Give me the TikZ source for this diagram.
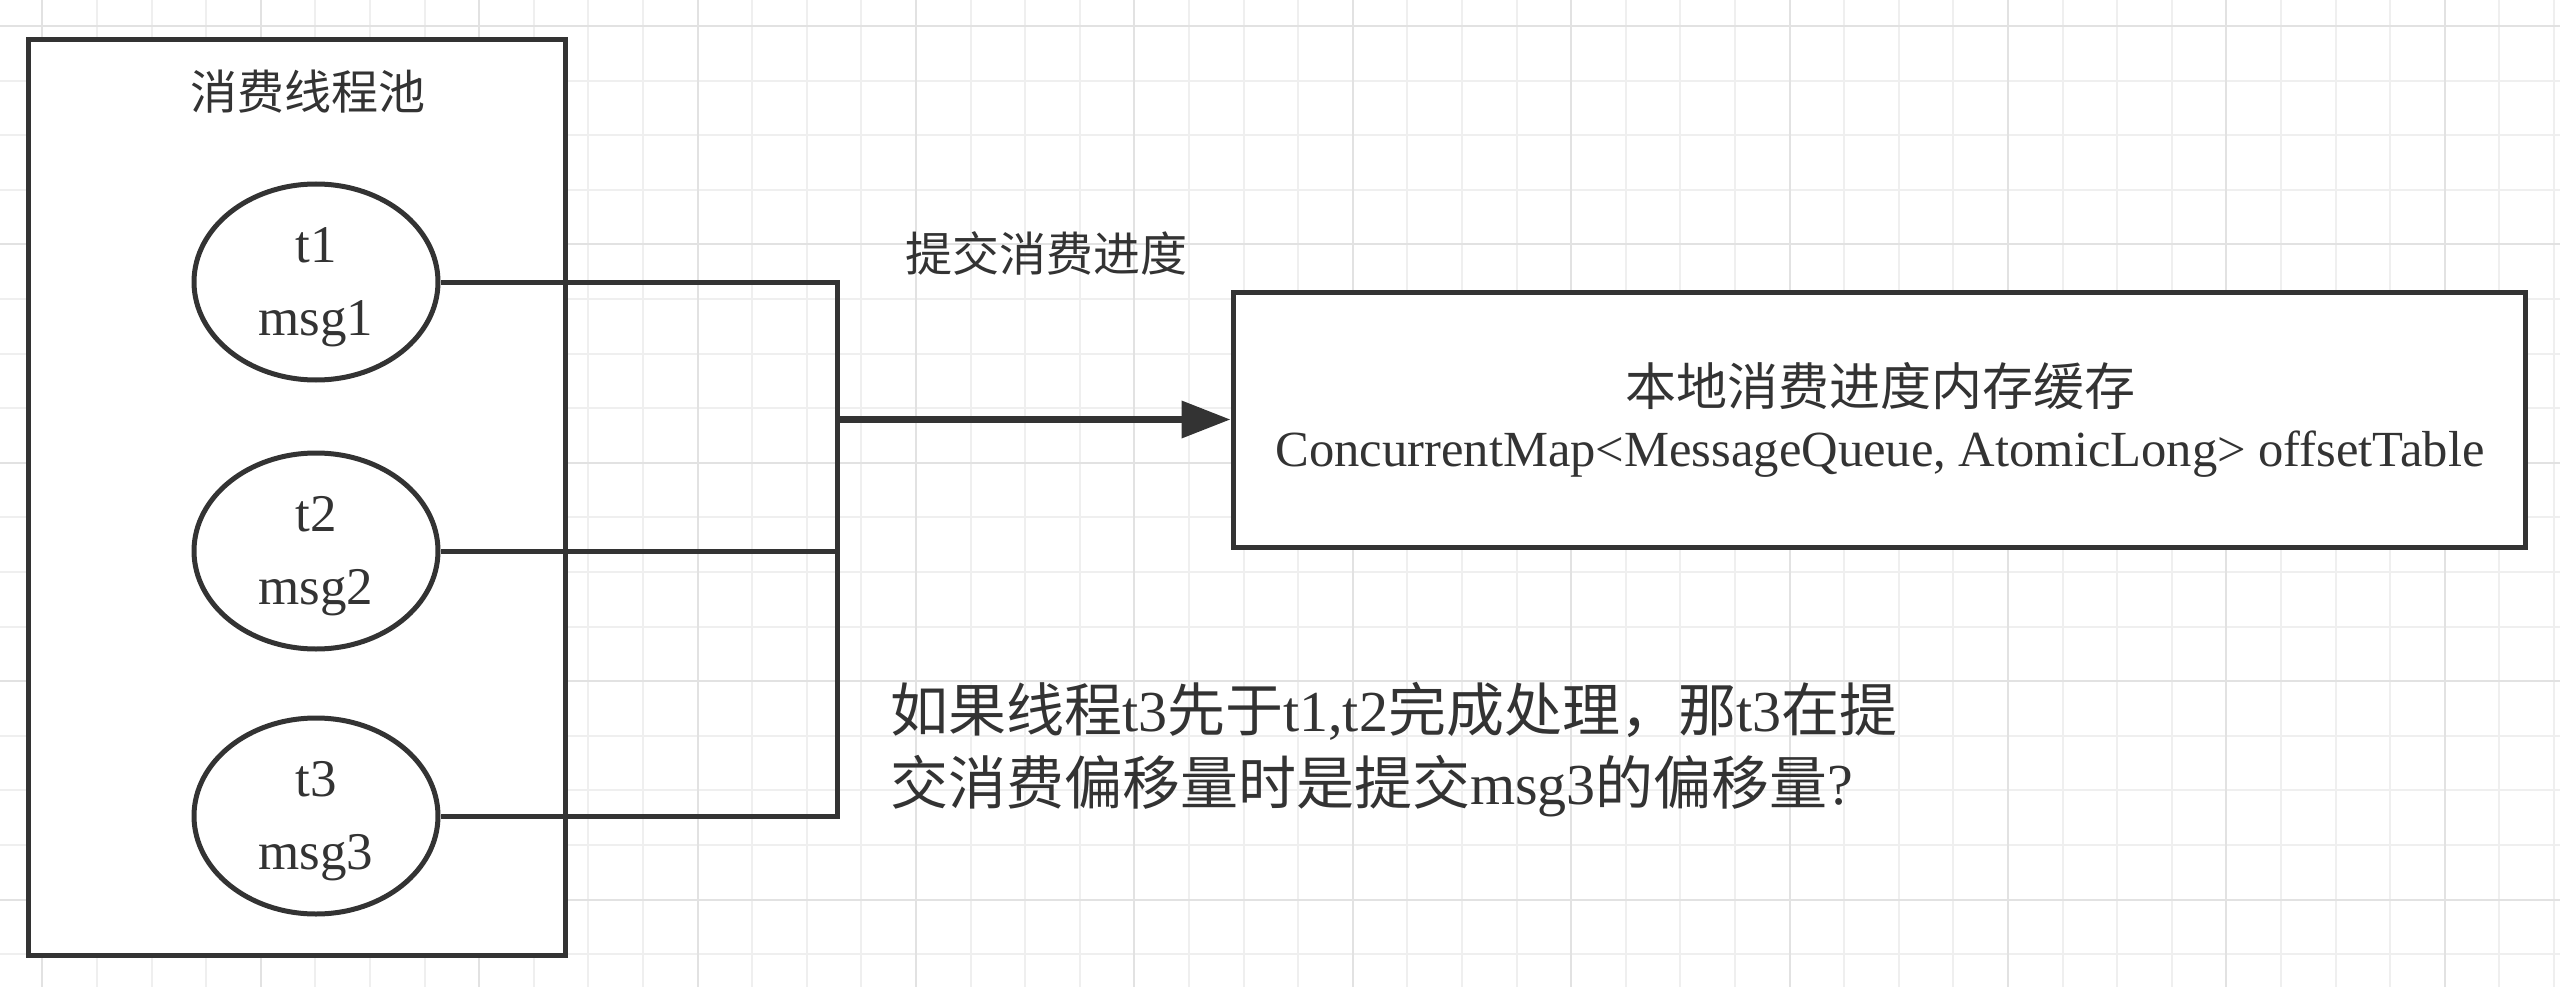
\documentclass[tikz,border=0pt]{standalone}
\usepackage{fontspec}
\setmainfont{Liberation Serif}
\newfontfamily\cjk{Noto Sans CJK SC}
\usetikzlibrary{shapes.geometric,arrows.meta}
\definecolor{ink}{HTML}{333333}
\definecolor{gridminor}{HTML}{EFEFEF}
\definecolor{gridmajor}{HTML}{E2E2E2}
\begin{document}
\begin{tikzpicture}[x=1pt,y=-1pt,
  stroke/.style={draw=ink, line width=5pt},
  box/.style={stroke, rectangle, fill=white, inner sep=0pt},
  thread/.style={stroke, ellipse, fill=white, minimum width=244pt, minimum height=196pt, inner sep=0pt},
  wire/.style={draw=ink, line width=5pt, line join=miter},
  pusharrow/.style={draw=ink, line width=7pt, -{Triangle[length=49pt,width=36pt]}},
  txt/.style={text=ink, inner sep=0pt},
  cjktitle/.style={txt, font=\cjk\fontsize{47}{56}\selectfont},
  latin/.style={txt, font=\fontsize{53}{60}\selectfont},
  gridline/.style={line width=2pt}
]
\useasboundingbox (0,0) rectangle (2560,987);
\fill[white] (0,0) rectangle (2560,987);
% grid
\foreach \i in {0,...,46} {
  \pgfmathsetmacro\xx{42.4+54.6*\i}
  \draw[gridminor, gridline] (\xx,0) -- (\xx,987);
}
\foreach \i in {0,...,17} {
  \pgfmathsetmacro\yy{26+54.6*\i}
  \draw[gridminor, gridline] (0,\yy) -- (2560,\yy);
}
\foreach \i in {0,4,...,44} {
  \pgfmathsetmacro\xx{42.4+54.6*\i}
  \draw[gridmajor, gridline] (\xx,0) -- (\xx,987);
}
\foreach \i in {0,4,...,16} {
  \pgfmathsetmacro\yy{26+54.6*\i}
  \draw[gridmajor, gridline] (0,\yy) -- (2560,\yy);
}

% thread pool
\node[box, minimum width=537pt, minimum height=915pt] (pool) at (296.5,497.5) {};
\node[cjktitle] (pooltitle) at (308,92) {消费线程池};

\node[thread] (e1) at (316,282) {};
\node[thread] (e2) at (316,551) {};
\node[thread] (e3) at (316,816) {};
\node[latin, anchor=base] (t1) at (316,262) {t1};
\node[latin, anchor=base] (m1) at (316,335) {msg1};
\node[latin, anchor=base] (t2) at (316,531) {t2};
\node[latin, anchor=base] (m2) at (316,604) {msg2};
\node[latin, anchor=base] (t3) at (316,796) {t3};
\node[latin, anchor=base] (m3) at (316,869) {msg3};

% local store
\node[box, minimum width=1292pt, minimum height=255pt] (store) at (1879,419.5) {};
\node[txt, font=\cjk\fontsize{51}{60}\selectfont] (storetitle) at (1880,386) {本地消费进度内存缓存};
\node[txt, anchor=base, font=\fontsize{50.6}{60}\selectfont] (storemap) at (1880,466) {ConcurrentMap<MessageQueue, AtomicLong> offsetTable};

% commit label
\node[cjktitle] (commit) at (1046,253) {提交消费进度};

% question
\node[txt, anchor=base west, font=\fontsize{58}{73}\selectfont] (q1) at (890,731)
  {{\cjk 如果线程}t3{\cjk 先于}t1,t2{\cjk 完成处理，那}t3{\cjk 在提}};
\node[txt, anchor=base west, font=\fontsize{58}{73}\selectfont] (q2) at (890,804)
  {{\cjk 交消费偏移量时是提交}msg3{\cjk 的偏移量}?};

% connectors
\coordinate (bus) at (837,0);
\draw[wire] (e1.east) -- (e1.east -| bus) -- (e3.east -| bus) -- (e3.east);
\draw[wire] (e2.east) -- (e2.east -| bus);
\draw[pusharrow] (store.west -| bus) -- (store.west);
\end{tikzpicture}
\end{document}
